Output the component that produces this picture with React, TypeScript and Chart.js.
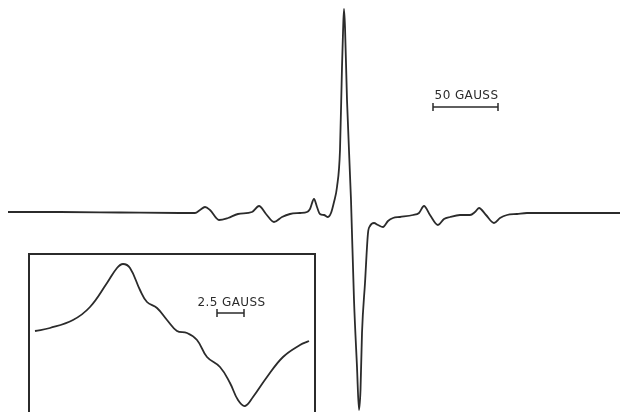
import React, { useEffect, useRef } from "react";
import { Chart, registerables } from "chart.js";
Chart.register(...registerables);

// Main EPR derivative spectrum (field in chart units, 65 units = 50 gauss)
const mainField = [8, 60, 120, 180, 195, 200, 205, 210, 219, 228, 238, 252, 259, 266, 274, 282, 290, 300, 307, 310, 314, 317, 320, 324, 328, 331, 334, 337, 340, 342, 343, 344, 345, 347, 351, 354, 357, 359, 360.5, 362, 365, 368, 370, 374, 378, 383, 388, 393, 400, 413, 419, 424, 430, 438, 444, 450, 460, 470, 475, 479, 486, 494, 500, 507, 517, 527, 570, 620];
const mainAmp = [0, 0, -0.5, -1, -1, 2, 5, 2, -8, -6, -2, 0, 6, -2, -10, -5, -2, -1, 0, 3, 13, 5, -2, -3, -5, -1, 10, 25, 62, 145, 179, 203, 185, 112, 12, -88, -155, -198, -178, -121, -71, -21, -14, -11, -13, -15, -9, -6, -5, -3, -1, 6, -3, -13, -7, -5, -3, -3, 0, 4, -3, -11, -6, -3, -2, -1, -1, -1];

// Inset: expanded central line (28 units = 2.5 gauss)
const insetField = [7, 22, 45, 62, 79, 89, 95, 102, 112, 119, 129, 139, 149, 159, 169, 179, 192, 202, 210, 217, 225, 239, 255, 272, 281];
const insetAmp = [4, 7, 15, 28, 52, 67, 71, 67, 45, 33, 27, 15, 4, 2, -5, -22, -32, -48, -65, -71, -62, -42, -22, -10, -6];

// Scale bars
const mainBar = { from: 433, to: 498, level: 105, label: "50 GAUSS", labelLevel: 116 };
const insetBar = { from: 189, to: 216, level: 22, label: "2.5 GAUSS", labelLevel: 32 };

const INK = "#2b2b2b";

const annotPlugin = {
  id: "annot",
  afterDatasetsDraw(chart: any, _args: any, opts: any) {
    const { ctx, chartArea } = chart;
    const xs = chart.scales.x;
    const ys = chart.scales.y;
    ctx.save();
    ctx.strokeStyle = INK;
    ctx.fillStyle = INK;
    if (opts.frame) {
      ctx.lineWidth = 2;
      ctx.beginPath();
      ctx.moveTo(chartArea.left + 1, chartArea.bottom + 2);
      ctx.lineTo(chartArea.left + 1, chartArea.top + 1);
      ctx.lineTo(chartArea.right - 1, chartArea.top + 1);
      ctx.lineTo(chartArea.right - 1, chartArea.bottom + 2);
      ctx.stroke();
    }
    const bar = opts.bar;
    if (bar) {
      const x1 = xs.getPixelForValue(bar.from);
      const x2 = xs.getPixelForValue(bar.to);
      const yb = ys.getPixelForValue(bar.level);
      ctx.lineWidth = 1.5;
      ctx.beginPath();
      ctx.moveTo(x1, yb);
      ctx.lineTo(x2, yb);
      ctx.moveTo(x1, yb - 4);
      ctx.lineTo(x1, yb + 4);
      ctx.moveTo(x2, yb - 4);
      ctx.lineTo(x2, yb + 4);
      ctx.stroke();
      ctx.font = "12px 'DejaVu Sans', sans-serif";
      try { (ctx as any).letterSpacing = "0.4px"; } catch (e) {}
      ctx.textAlign = "center";
      ctx.textBaseline = "middle";
      ctx.fillText(bar.label, (x1 + x2) / 2 + 1, ys.getPixelForValue(bar.labelLevel));
    }
    ctx.restore();
  },
};

function makeConfig(xsArr: number[], ysArr: number[], xmin: number, xmax: number, ymin: number, ymax: number, annot: any, smooth: boolean) {
  return {
    type: "line" as const,
    data: {
      datasets: [
        {
          data: xsArr.map((x, i) => ({ x, y: ysArr[i] })),
          borderColor: INK,
          borderWidth: 1.8,
          pointRadius: 0,
          fill: false,
          tension: smooth ? 0.4 : 0,
          cubicInterpolationMode: smooth ? ("default" as const) : ("monotone" as const),
        },
      ],
    },
    options: {
      responsive: false,
      maintainAspectRatio: false,
      animation: false as const,
      layout: { padding: 0 },
      plugins: { legend: { display: false }, tooltip: { enabled: false }, annot },
      scales: {
        x: { type: "linear" as const, min: xmin, max: xmax, display: false },
        y: { type: "linear" as const, min: ymin, max: ymax, display: false },
      },
    },
    plugins: [annotPlugin],
  };
}

export default function App() {
  const mainRef = useRef<HTMLCanvasElement>(null);
  const insetRef = useRef<HTMLCanvasElement>(null);
  useEffect(() => {
    const c1 = new Chart(mainRef.current as HTMLCanvasElement, makeConfig(mainField, mainAmp, 0, 623, -200, 212, { bar: mainBar }, false) as any);
    const c2 = new Chart(insetRef.current as HTMLCanvasElement, makeConfig(insetField, insetAmp, 0, 288, -77, 82, { bar: insetBar, frame: true }, true) as any);
    return () => {
      c1.destroy();
      c2.destroy();
    };
  }, []);
  return (
    <div style={{ position: "fixed", left: 0, top: 0, width: 623, height: 412, overflow: "hidden", background: "#fff" }}>
      <canvas ref={mainRef} width={623} height={412} style={{ position: "absolute", left: 0, top: 0 }} />
      <canvas ref={insetRef} width={288} height={159} style={{ position: "absolute", left: 28, top: 253 }} />
    </div>
  );
}
